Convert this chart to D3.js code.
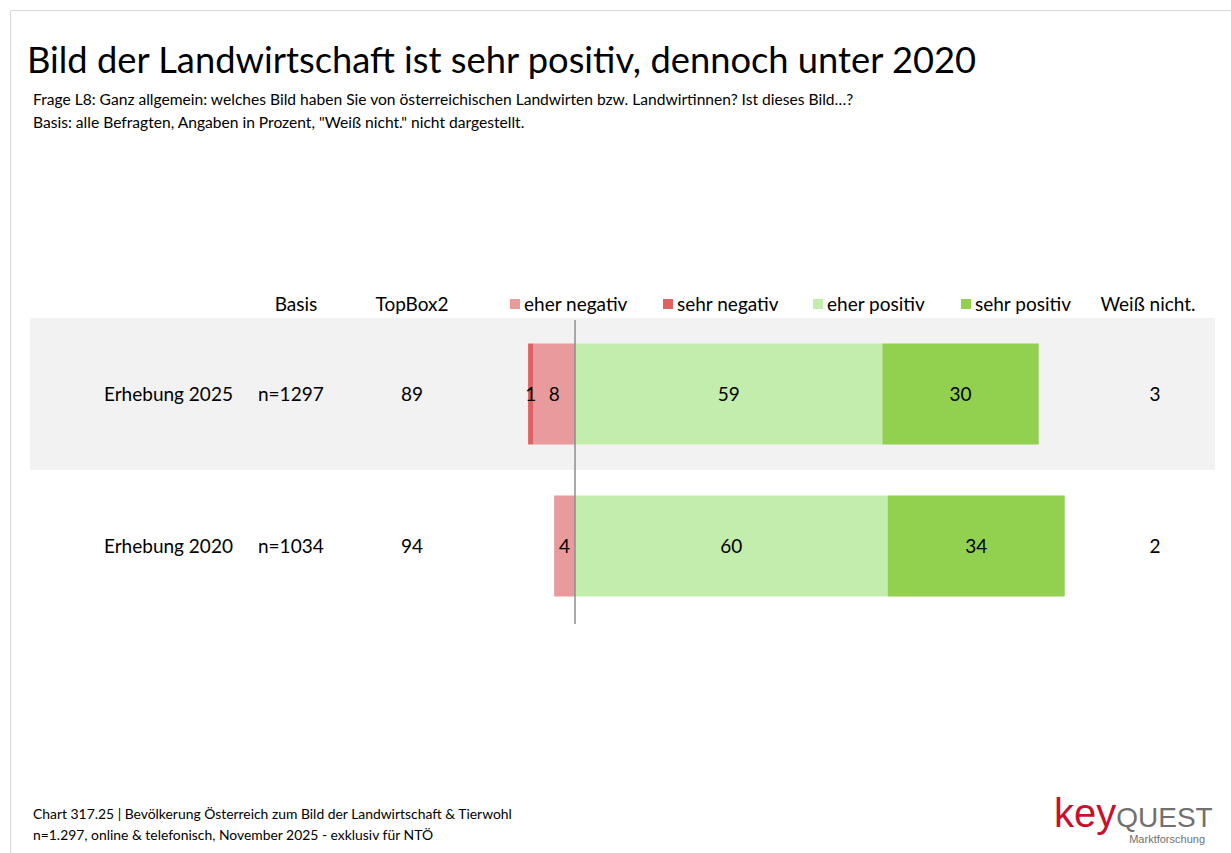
<!DOCTYPE html>
<html>
<head>
<meta charset="utf-8">
<script src="https://cdn.jsdelivr.net/npm/d3@7"></script>
<style>
  body { margin: 0; background: #fff; }
  svg { font-family: Lato, "Open Sans", sans-serif; }
</style>
</head>
<body>
<svg id="chart" width="1231" height="853"></svg>
<script>
// data
const rows = ["Erhebung 2025", "Erhebung 2020"];
const basis = ["n=1297", "n=1034"];
const topBox2 = [89, 94];
const weissNicht = [3, 2];
const eherNegativ = [8, 4];
const sehrNegativ = [1, 0];
const eherPositiv = [59, 60];
const sehrPositiv = [30, 34];

const seriesNames = ["eher negativ", "sehr negativ", "eher positiv", "sehr positiv"];
const seriesColors = ["#e99a9c", "#df6263", "#c3edac", "#92d050"];

const svg = d3.select("#chart");

// frame
svg.append("path")
    .attr("d", "M10.5,853 L10.5,10.5 L1231,10.5")
    .attr("fill", "none")
    .attr("stroke", "#d9d9d9");

// titles
svg.append("text").attr("x", 27).attr("y", 73)
    .attr("font-size", 36.3).attr("fill", "#000")
    .text("Bild der Landwirtschaft ist sehr positiv, dennoch unter 2020");
svg.append("text").attr("x", 33).attr("y", 105)
    .attr("font-size", 15.6).attr("fill", "#000")
    .text("Frage L8: Ganz allgemein: welches Bild haben Sie von österreichischen Landwirten bzw. Landwirtinnen? Ist dieses Bild…?");
svg.append("text").attr("x", 33).attr("y", 128)
    .attr("font-size", 15.6).attr("fill", "#000")
    .text("Basis: alle Befragten, Angaben in Prozent, \"Weiß nicht.\" nicht dargestellt.");

// scales
let x = d3.scaleLinear().domain([0, 100]).range([575, 1096]);
let y = d3.scaleBand().domain(rows).range([318, 622]);
let barH = 101;
let barOff = (y.bandwidth() - barH) / 2;
let fs = 19;

// grey band behind first row
svg.append("rect")
    .attr("x", 30).attr("y", y(rows[0]))
    .attr("width", 1185).attr("height", y.bandwidth())
    .attr("fill", "#f2f2f2");

// build segments
let segs = [];
rows.forEach(function(r, i) {
    let e = eherNegativ[i], s = sehrNegativ[i];
    segs.push({ row: r, key: 0, x0: -e, x1: 0, v: e });
    segs.push({ row: r, key: 1, x0: -e - s, x1: -e, v: s });
    segs.push({ row: r, key: 2, x0: 0, x1: eherPositiv[i], v: eherPositiv[i] });
    segs.push({ row: r, key: 3, x0: eherPositiv[i], x1: eherPositiv[i] + sehrPositiv[i], v: sehrPositiv[i] });
});
segs = segs.filter(function(d) { return d.v > 0; });

svg.selectAll("rect.seg")
    .data(segs)
    .enter()
    .append("rect")
    .attr("class", "seg")
    .attr("x", function(d) { return x(d.x0); })
    .attr("y", function(d) { return y(d.row) + barOff; })
    .attr("width", function(d) { return x(d.x1) - x(d.x0); })
    .attr("height", barH)
    .attr("fill", function(d) { return seriesColors[d.key]; });

svg.selectAll("text.seg")
    .data(segs)
    .enter()
    .append("text")
    .attr("class", "seg")
    .attr("x", function(d) { return (x(d.x0) + x(d.x1)) / 2; })
    .attr("y", function(d) { return y(d.row) + y.bandwidth() / 2 + 7; })
    .attr("text-anchor", "middle")
    .attr("font-size", fs)
    .attr("fill", "#000")
    .text(function(d) { return d.v; });

// zero line
svg.append("line")
    .attr("x1", x(0)).attr("x2", x(0))
    .attr("y1", 320).attr("y2", 624)
    .attr("stroke", "#8c8c8c").attr("stroke-width", 1.5);

// table columns
let cols = [
    { head: null, vals: rows, x: 104, anchor: "start" },
    { head: "Basis", vals: basis, x: 258, anchor: "start", hx: 296 },
    { head: "TopBox2", vals: topBox2, x: 412, anchor: "middle", hx: 412 },
    { head: "Weiß nicht.", vals: weissNicht, x: 1155, anchor: "middle", hx: 1148 }
];
cols.forEach(function(c) {
    if (c.head) {
        svg.append("text").attr("x", c.hx).attr("y", 311)
            .attr("text-anchor", "middle").attr("font-size", fs)
            .text(c.head);
    }
    svg.selectAll(null)
        .data(c.vals)
        .enter()
        .append("text")
        .attr("x", c.x)
        .attr("y", function(d, i) { return y(rows[i]) + y.bandwidth() / 2 + 7; })
        .attr("text-anchor", c.anchor)
        .attr("font-size", fs)
        .attr("fill", "#000")
        .text(function(d) { return d; });
});

// legend
let legendX = [510, 663, 813, 961];
let lg = svg.selectAll("g.legend")
    .data(seriesNames)
    .enter()
    .append("g")
    .attr("class", "legend")
    .attr("transform", function(d, i) { return "translate(" + legendX[i] + ",304)"; });
lg.append("rect").attr("x", 0).attr("y", -5).attr("width", 10).attr("height", 10)
    .attr("fill", function(d, i) { return seriesColors[i]; });
lg.append("text").attr("x", 14).attr("y", 7).attr("font-size", fs)
    .text(function(d) { return d; });

// footer
svg.append("text").attr("x", 33).attr("y", 819).attr("font-size", 13.9)
    .text("Chart 317.25 | Bevölkerung Österreich zum Bild der Landwirtschaft & Tierwohl");
svg.append("text").attr("x", 33).attr("y", 840).attr("font-size", 13.9)
    .text("n=1.297, online & telefonisch, November 2025 - exklusiv für NTÖ");

// logo
let logo = svg.append("text").attr("x", 1054).attr("y", 827)
    .attr("font-family", "'Liberation Sans', Arial, sans-serif");
logo.append("tspan").attr("font-size", 40).attr("fill", "#c8102e").text("key");
logo.append("tspan").attr("font-size", 28).attr("fill", "#707070").text("QUEST");
svg.append("text").attr("x", 1205).attr("y", 843).attr("text-anchor", "end")
    .attr("font-size", 11).attr("fill", "#707070")
    .attr("font-family", "'Liberation Sans', Arial, sans-serif")
    .text("Marktforschung");
</script>
</body>
</html>
